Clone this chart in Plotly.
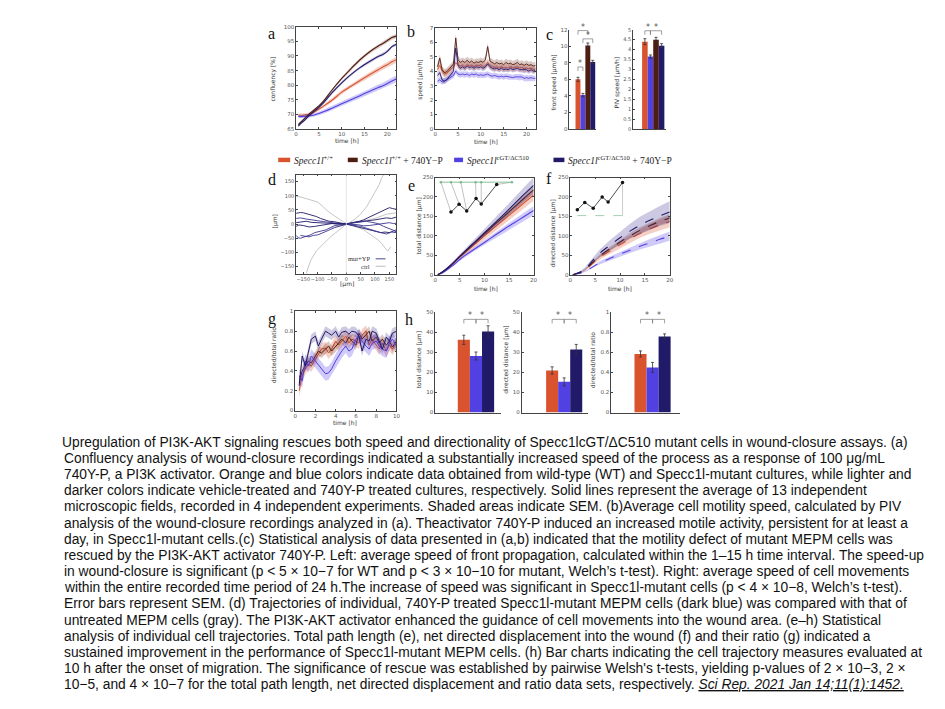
import plotly.graph_objects as go

# ---------------- DATA ----------------
RED, BROWN, BLUE, NAVY = '#d9532f', '#4e1d12', '#5140e2', '#211a68'
RED_F, BROWN_F, BLUE_F, NAVY_F = ('rgba(217,83,47,0.28)', 'rgba(110,40,25,0.25)',
                                  'rgba(81,64,226,0.28)', 'rgba(60,40,140,0.25)')

# (a) confluency
t_a = [0.5, 1, 2, 3, 4, 5, 6, 8, 10, 12, 14, 16, 18, 19, 20, 21, 22]
conf_brown = [66.5, 67.3, 68.8, 70.3, 71.6, 72.9, 74.5, 78.6, 82.3, 85.6, 88.7, 91.3, 93.4, 94.3, 95.3, 96.3, 96.8]
conf_navy = [66.0, 66.8, 68.2, 69.8, 71.1, 72.4, 73.9, 77.6, 80.8, 83.6, 86.0, 88.0, 89.8, 90.5, 91.6, 93.2, 94.0]
conf_red = [69.8, 69.7, 69.8, 70.0, 70.8, 71.8, 72.8, 75.0, 77.6, 79.6, 81.6, 83.5, 85.3, 86.2, 87.0, 88.0, 88.7]
conf_blue = [69.3, 69.2, 69.4, 69.5, 69.8, 70.3, 70.9, 72.2, 73.6, 75.0, 76.4, 77.8, 79.2, 79.8, 80.6, 81.4, 82.2]
sem_conf_brown = [0.4, 0.4, 0.4, 0.4, 0.4, 0.4, 0.5, 0.5, 0.5, 0.6, 0.6, 0.6, 0.6, 0.6, 0.7, 0.7, 0.7]
sem_conf_navy = [0.4, 0.4, 0.4, 0.4, 0.4, 0.4, 0.4, 0.5, 0.5, 0.5, 0.5, 0.5, 0.5, 0.5, 0.5, 0.5, 0.5]
sem_conf_red = [0.6, 0.6, 0.6, 0.6, 0.6, 0.6, 0.6, 0.7, 0.7, 0.7, 0.8, 0.8, 0.9, 0.9, 0.9, 1.0, 1.0]
sem_conf_blue = [0.6, 0.6, 0.6, 0.6, 0.6, 0.6, 0.7, 0.7, 0.8, 0.8, 0.9, 0.9, 1.0, 1.0, 1.1, 1.1, 1.2]

# (b) PIV speed
t_b = [0.5, 1.0, 1.5, 2.0, 2.5, 3.0, 3.5, 4.0, 4.5, 5.0, 5.5, 6.0, 6.5, 7.0, 7.5, 8.0, 8.5, 9.0, 9.5, 10.0, 10.5,
       11.0, 11.5, 12.0, 12.5, 13.0, 13.5, 14.0, 14.5, 15.0, 15.5, 16.0, 16.5, 17.0, 17.5, 18.0, 18.5, 19.0,
       19.5, 20.0, 20.5, 21.0, 21.5, 22.0]
spd_brown = [4.3, 4.9, 4.1, 3.9, 3.95, 4.1, 4.3, 4.5, 6.3, 4.8, 4.6, 4.7, 4.6, 4.75, 4.6, 4.7, 4.55, 4.65, 4.6, 4.7,
             4.6, 4.8, 5.7, 4.7, 4.6, 4.5, 4.6, 4.5, 4.55, 4.45, 4.6, 4.5, 4.55, 4.45, 4.5, 4.6, 4.45, 4.5, 4.4,
             4.5, 4.4, 4.45, 4.35, 4.4]
spd_red = [4.1, 4.4, 4.0, 3.8, 3.85, 4.0, 4.1, 4.3, 4.6, 4.4, 4.35, 4.4, 4.3, 4.45, 4.35, 4.4, 4.3, 4.4, 4.35, 4.45,
           4.3, 4.4, 4.6, 4.4, 4.3, 4.25, 4.3, 4.2, 4.3, 4.2, 4.25, 4.2, 4.3, 4.2, 4.25, 4.3, 4.2, 4.25, 4.15, 4.2,
           4.15, 4.2, 4.1, 4.15]
spd_navy = [3.7, 3.9, 3.4, 3.3, 3.4, 3.6, 3.8, 4.0, 5.6, 4.4, 4.2, 4.3, 4.2, 4.35, 4.25, 4.3, 4.2, 4.3, 4.25, 4.3,
            4.2, 4.3, 4.5, 4.3, 4.2, 4.15, 4.2, 4.1, 4.2, 4.1, 4.15, 4.1, 4.2, 4.1, 4.15, 4.2, 4.1, 4.1, 4.05, 4.1,
            4.0, 4.1, 4.0, 4.05]
spd_blue = [3.3, 3.4, 3.25, 3.3, 3.4, 3.5, 3.6, 3.7, 4.0, 3.8, 3.75, 3.8, 3.75, 3.8, 3.7, 3.8, 3.75, 3.8, 3.7, 3.75,
            3.7, 3.75, 3.8, 3.7, 3.65, 3.7, 3.65, 3.6, 3.65, 3.6, 3.65, 3.6, 3.6, 3.55, 3.6, 3.6, 3.55, 3.6, 3.5,
            3.55, 3.5, 3.55, 3.5, 3.5]
sem_spd = {'brown': 0.25, 'red': 0.25, 'navy': 0.2, 'blue': 0.2}

# (c) bar charts: order red, blue, brown, navy
c_colors = [RED, BLUE, BROWN, NAVY]
front_speed = [6.0, 4.1, 10.1, 8.1]
front_speed_err = [0.25, 0.2, 0.3, 0.2]
piv_speed = [4.4, 3.65, 4.5, 4.2]
piv_speed_err = [0.15, 0.08, 0.12, 0.1]
front_brackets = [(1, 3, 11.9), (2, 4, 10.9), (1, 2, 7.5)]
piv_brackets = [(1, 2, 4.95), (2, 4, 4.95)]

# (d) trajectories
traj_mut = [
    ([-175, -160, -150, -135, -120, -105, -90, -75, -60, -45, -30, -15, 0, 15, 30, 45, 60, 75, 90, 105, 120, 135, 150, 162, 175],
     [38, 41, 40, 36, 30, 27, 20, 16, 10, 9, 5, 3, 0, 3, 5, 10, 15, 22, 30, 36, 45, 50, 58, 55, 52]),
    ([-175, -160, -140, -120, -100, -80, -60, -45, -30, -15, 0, 20, 40, 60, 80, 100, 120, 135, 150, 165, 175],
     [20, 22, 18, 16, 12, 9, 6, 5, 3, 2, 0, -1, -2, -6, -5, -2, 0, 4, 5, 2, 3]),
    ([-175, -165, -150, -130, -110, -90, -70, -50, -30, -15, 0, 20, 40, 60, 80, 100, 120, 135, 150, 165, 175],
     [-8, -3, -5, -10, -8, -4, -2, 2, 0, 1, 0, -5, -10, -14, -20, -24, -30, -28, -30, -24, -20]),
    ([-175, -168, -160, -150, -140, -125, -110, -90, -70, -55, -40, -20, 0, 25, 50, 75, 100, 120, 140, 158, 175],
     [-40, -48, -50, -47, -45, -38, -30, -26, -20, -12, -5, -3, 0, -4, -8, -16, -25, -30, -35, -28, -30]),
    ([-175, -158, -140, -120, -100, -75, -50, -25, 0, 25, 50, 75, 100, 120, 140, 158, 175],
     [5, 8, 10, 6, 5, 4, 2, 1, 0, 6, 10, 12, 15, 18, 22, 20, 25]),
    ([-160, -145, -130, -115, -100, -85, -70, -55, -40, -25, -15, 0, 15, 30, 50, 70, 90, 110, 130, 150, 165, 175],
     [-40, -42, -45, -40, -38, -32, -25, -18, -12, -8, -4, 0, 3, 5, 8, 10, 6, 2, -8, -15, -22, -28]),
]
traj_ctrl = [
    ([-175, -160, -140, -120, -100, -85, -70, -50, -30, -10, 0], [98, 96, 90, 85, 78, 66, 50, 35, 20, 8, 2]),
    ([0, 20, 45, 70, 90, 105, 115, 122, 130], [0, 10, 30, 60, 95, 120, 140, 160, 175]),
    ([0, 25, 60, 90, 110, 125, 135, 145, 155], [0, -5, -20, -40, -55, -70, -85, -95, -80]),
    ([-140, -125, -105, -80, -55, -30, -10, 0], [-175, -130, -95, -70, -45, -25, -8, 0]),
    ([-60, -30, 0, 30, 60, 100, 140, 175], [-15, -8, 0, 6, 12, 20, 35, 40]),
]

# (e) total distance, (f) directed distance
t_ef = [0.5, 1, 2, 3, 4, 5, 6, 8, 10, 12, 14, 16, 18, 20]
tot_navy = [0, 3, 12, 23, 35, 48, 60, 84, 108, 132, 156, 181, 206, 230]
tot_brown = [0, 3, 12, 22, 34, 47, 58, 82, 105, 128, 150, 173, 196, 218]
tot_red = [0, 3, 11, 21, 33, 45, 56, 78, 100, 121, 142, 163, 184, 205]
tot_blue = [0, 2, 9, 18, 28, 39, 49, 66, 83, 100, 117, 133, 149, 165]
sem_tot_navy = [0, 1, 2, 3, 4, 5, 6, 8, 10, 12, 14, 16, 18, 20]
sem_tot_brown = [0, 1, 1, 2, 2, 3, 3, 4, 5, 6, 7, 8, 9, 10]
sem_tot_red = [0, 1, 1, 2, 3, 4, 5, 6, 8, 9, 11, 12, 14, 15]
sem_tot_blue = [0, 1, 1, 2, 3, 3, 4, 5, 6, 7, 8, 9, 11, 12]
dir_navy = [0, 2, 7, 16, 29, 44, 56, 76, 95, 112, 127, 140, 151, 161]
dir_brown = [0, 1.5, 6, 14, 25, 38, 49, 67, 84, 100, 114, 126, 137, 146]
dir_red = [0, 1.5, 5, 12, 23, 35, 45, 61, 77, 92, 106, 118, 128, 137]
dir_blue = [0, 1, 4, 9, 16, 24, 31, 42, 53, 63, 73, 82, 91, 99]
sem_dir_navy = [0, 1, 2, 4, 6, 8, 10, 13, 16, 19, 22, 24, 26, 28]
sem_dir_brown = [0, 1, 1, 2, 2, 3, 4, 5, 6, 7, 8, 9, 9, 10]
sem_dir_red = [0, 1, 1, 2, 3, 4, 5, 7, 8, 10, 11, 13, 14, 15]
sem_dir_blue = [0, 1, 1, 2, 2, 3, 4, 5, 6, 7, 8, 10, 11, 12]

# insets of (e) and (f)
e_zig_x = [3.2, 4.85, 6.4, 8.3, 9.35, 12.5]
e_zig_y = [161, 181, 164, 196, 182, 232]
e_unroll_x = [1.15, 3.2, 5.2, 8.2, 9.35, 15.6]
e_unroll_y = 238
f_zig_x = [1.4, 2.9, 4.6, 6.4, 7.6, 10.5]
f_zig_y = [167, 186, 171, 200, 187, 237]
f_base_y = 152

# (g) directed / total ratio
t_g = [0.4, 0.7, 1.0, 1.3, 1.6, 2.0, 2.3, 2.6, 3.0, 3.3, 3.6, 4.0, 4.3, 4.6, 5.0, 5.3, 5.6, 6.0, 6.3, 6.6,
       7.0, 7.3, 7.6, 8.0, 8.3, 8.6, 9.0, 9.3, 9.6, 10.0]
rat_navy = [0.25, 0.55, 0.45, 0.58, 0.72, 0.75, 0.65, 0.72, 0.80, 0.78, 0.76, 0.80, 0.74, 0.79, 0.80, 0.77, 0.80,
            0.79, 0.75, 0.60, 0.72, 0.70, 0.80, 0.78, 0.70, 0.62, 0.74, 0.70, 0.78, 0.80]
rat_blue = [0.35, 0.30, 0.50, 0.45, 0.55, 0.50, 0.46, 0.42, 0.37, 0.38, 0.42, 0.50, 0.55, 0.60, 0.65, 0.60, 0.62,
            0.72, 0.75, 0.70, 0.65, 0.62, 0.68, 0.70, 0.65, 0.62, 0.60, 0.68, 0.72, 0.65]
rat_red = [0.20, 0.35, 0.42, 0.47, 0.45, 0.52, 0.58, 0.62, 0.63, 0.58, 0.62, 0.70, 0.66, 0.70, 0.75, 0.68, 0.72,
           0.70, 0.68, 0.76, 0.80, 0.66, 0.72, 0.66, 0.62, 0.68, 0.60, 0.66, 0.62, 0.68]
rat_brown = [0.28, 0.40, 0.45, 0.50, 0.48, 0.55, 0.60, 0.58, 0.62, 0.65, 0.60, 0.64, 0.68, 0.72, 0.68, 0.74, 0.70,
             0.66, 0.78, 0.72, 0.76, 0.80, 0.70, 0.74, 0.68, 0.72, 0.66, 0.70, 0.64, 0.70]
sem_rat = {'navy': 0.05, 'blue': 0.07, 'red': 0.06, 'brown': 0.05}

# (h) bars at 10 h: red, blue, navy
h_colors = [RED, BLUE, NAVY]
h_total = [36.3, 28.2, 40.5]
h_total_err = [2.3, 2.0, 2.8]
h_directed = [21.0, 15.3, 31.5]
h_directed_err = [1.8, 2.0, 2.5]
h_ratio = [0.585, 0.45, 0.76]
h_ratio_err = [0.03, 0.05, 0.025]

caption_lines = [
    "Upregulation of PI3K-AKT signaling rescues both speed and directionality of Specc1lcGT/ΔC510 mutant cells in wound-closure assays. (a)",
    "Confluency analysis of wound-closure recordings indicated a substantially increased speed of the process as a response of 100 μg/mL",
    "740Y-P, a PI3K activator. Orange and blue colors indicate data obtained from wild-type (WT) and Specc1l-mutant cultures, while lighter and",
    "darker colors indicate vehicle-treated and 740Y-P treated cultures, respectively. Solid lines represent the average of 13 independent",
    "microscopic fields, recorded in 4 independent experiments. Shaded areas indicate SEM. (b)Average cell motility speed, calculated by PIV",
    "analysis of the wound-closure recordings analyzed in (a). Theactivator 740Y-P induced an increased motile activity, persistent for at least a",
    "day, in Specc1l-mutant cells.(c) Statistical analysis of data presented in (a,b) indicated that the motility defect of mutant MEPM cells was",
    "rescued by the PI3K-AKT activator 740Y-P. Left: average speed of front propagation, calculated within the 1–15 h time interval. The speed-up",
    "in wound-closure is significant (p &lt; 5 × 10−7 for WT and p &lt; 3 × 10−10 for mutant, Welch’s t-test). Right: average speed of cell movements",
    "within the entire recorded time period of 24 h.The increase of speed was significant in Specc1l-mutant cells (p &lt; 4 × 10−8, Welch’s t-test).",
    "Error bars represent SEM. (d) Trajectories of individual, 740Y-P treated Specc1l-mutant MEPM cells (dark blue) was compared with that of",
    "untreated MEPM cells (gray). The PI3K-AKT activator enhanced the guidance of cell movements into the wound area. (e–h) Statistical",
    "analysis of individual cell trajectories. Total path length (e), net directed displacement into the wound (f) and their ratio (g) indicated a",
    "sustained improvement in the performance of Specc1l-mutant MEPM cells. (h) Bar charts indicating the cell trajectory measures evaluated at",
    "10 h after the onset of migration. The significance of rescue was established by pairwise Welsh's t-tests, yielding p-values of 2 × 10−3, 2 ×",
    "10−5, and 4 × 10−7 for the total path length, net directed displacement and ratio data sets, respectively. <i><u>Sci Rep. 2021 Jan 14;11(1):1452.</u></i>",
]

# ---------------- LAYOUT HELPERS ----------------
W, H = 945, 709
def fx(p): return p / W
def fy(p): return 1 - p / H

fig = go.Figure()
layout = dict(width=W, height=H, margin=dict(l=0, r=0, t=0, b=0), paper_bgcolor='white',
              plot_bgcolor='white', showlegend=False)
TICKF = dict(family='DejaVu Sans', size=5.5, color='#555')
LINEC = '#444'

def axnames(n):
    return ('x' if n == 1 else f'x{n}', 'y' if n == 1 else f'y{n}')

def make_axes(n, box, xr, yr, xd, yd, frame=True, xticks=True, tickfont=TICKF):
    x0, x1, y0, y1 = box
    xn = 'xaxis' if n == 1 else f'xaxis{n}'
    yn = 'yaxis' if n == 1 else f'yaxis{n}'
    xa, ya = axnames(n)
    common = dict(showgrid=False, zeroline=False, showline=True, linecolor=LINEC, linewidth=0.7,
                  tickfont=tickfont, ticklen=2, tickwidth=0.6, tickcolor=LINEC, fixedrange=True,
                  tickangle=0)
    xax = dict(common, domain=[fx(x0), fx(x1)], range=xr, anchor=ya, dtick=xd, tick0=0,
               ticks='inside' if xticks else '', showticklabels=xticks,
               mirror='ticks' if frame else False)
    yax = dict(common, domain=[fy(y1), fy(y0)], range=yr, anchor=xa, dtick=yd, tick0=0, ticks='inside',
               mirror='ticks' if frame else False)
    layout[xn] = xax
    layout[yn] = yax

def band(n, x, y, s, fill):
    xa, ya = axnames(n)
    if isinstance(s, (int, float)):
        s = [s] * len(y)
    up = [a + b for a, b in zip(y, s)]
    lo = [a - b for a, b in zip(y, s)]
    fig.add_trace(go.Scatter(x=list(x) + list(x)[::-1], y=up + lo[::-1], fill='toself', fillcolor=fill,
                             line=dict(width=0), mode='lines', hoverinfo='skip', xaxis=xa, yaxis=ya))

def line(n, x, y, color, width=1.1, dash='solid', shape='linear'):
    xa, ya = axnames(n)
    fig.add_trace(go.Scatter(x=x, y=y, mode='lines', line=dict(color=color, width=width, dash=dash, shape=shape),
                             xaxis=xa, yaxis=ya))

annotations = []
shapes = []

def text(px, py, s, size=6, angle=0, family='DejaVu Sans', color='#333', xanchor='center', yanchor='middle'):
    annotations.append(dict(x=fx(px), y=fy(py), xref='paper', yref='paper', text=s, showarrow=False,
                            textangle=angle, font=dict(family=family, size=size, color=color),
                            xanchor=xanchor, yanchor=yanchor))

def bars(n, vals, errs, colors):
    xa, ya = axnames(n)
    fig.add_trace(go.Bar(x=list(range(1, len(vals) + 1)), y=vals, width=1.0, marker=dict(color=colors, line=dict(width=0)),
                         error_y=dict(type='data', array=errs, color='#333', thickness=0.8, width=1.5),
                         xaxis=xa, yaxis=ya))

def brackets(n, br, leg, starsize=8):
    xa, ya = axnames(n)
    for i, j, h in br:
        shapes.append(dict(type='path', xref=xa, yref=ya,
                           path=f'M {i},{h - leg} L {i},{h} L {j},{h} L {j},{h - leg}',
                           line=dict(color='#777', width=0.7)))
        annotations.append(dict(x=(i + j) / 2, y=h, xref=xa, yref=ya, text='*', showarrow=False,
                                yanchor='bottom', font=dict(family='DejaVu Sans', size=starsize, color='#555'),
                                yshift=-3))

SERIF = 'Liberation Serif, DejaVu Serif, serif'

# ---------------- (a) ----------------
make_axes(1, (296, 397, 24, 127), [0, 22], [65, 100], 5, 5)
for y, s, c, f in [(conf_red, sem_conf_red, RED, RED_F), (conf_blue, sem_conf_blue, BLUE, BLUE_F),
                   (conf_brown, sem_conf_brown, BROWN, BROWN_F), (conf_navy, sem_conf_navy, NAVY, NAVY_F)]:
    band(1, t_a, y, s, f)
    line(1, t_a, y, c, shape='spline')
text(273, 77, 'confluency [%]', angle=-90)
text(347, 139, 'time [h]')
text(271, 31, 'a', size=16, family=SERIF, color='#111')

# ---------------- (b) ----------------
make_axes(2, (436, 537, 25, 127), [0, 22], [0, 7], 5, 1)
for key, y, c, f in [('red', spd_red, RED, RED_F), ('blue', spd_blue, BLUE, BLUE_F),
                     ('brown', spd_brown, BROWN, BROWN_F), ('navy', spd_navy, NAVY, NAVY_F)]:
    band(2, t_b, y, sem_spd[key], f)
    line(2, t_b, y, c, width=0.9)
text(421, 77, 'speed [μm/h]', angle=-90)
text(487, 140, 'time [h]')
text(412, 29, 'b', size=16, family=SERIF, color='#111')

# ---------------- (c) ----------------
make_axes(3, (571, 598, 27, 127), [-0.75, 4.7], [0, 12], 1, 2, frame=False, xticks=False)
bars(3, front_speed, front_speed_err, c_colors)
brackets(3, front_brackets, 0.5)
make_axes(4, (635, 668, 27, 127), [-1.14, 4.75], [0, 5], 1, 0.5, frame=False, xticks=False,
          tickfont=dict(TICKF, size=5))
bars(4, piv_speed, piv_speed_err, c_colors)
brackets(4, piv_brackets, 0.2)
text(556, 80, 'front speed [μm/h]', angle=-90)
text(619, 80, 'PIV speed [μm/h]', angle=-90)
text(551, 32, 'c', size=16, family=SERIF, color='#111')

# ---------------- legend ----------------
leg_items = [(278, 290, RED, '<i>Specc1l</i><sup>+/+</sup>'),
             (348, 358, BROWN, '<i>Specc1l</i><sup>+/+</sup> + 740Y−P'),
             (455, 464, BLUE, '<i>Specc1l</i><sup>cGT/ΔC510</sup>'),
             (555, 566, NAVY, '<i>Specc1l</i><sup>cGT/ΔC510</sup> + 740Y−P')]
for x0, x1, c, s in leg_items:
    shapes.append(dict(type='rect', xref='paper', yref='paper', x0=fx(x0), x1=fx(x1), y0=fy(160.5), y1=fy(156),
                       fillcolor=c, line=dict(width=0)))
    text(x1 + 2, 158, s, size=9.5, family=SERIF, color='#222', xanchor='left')

# ---------------- (d) ----------------
make_axes(5, (296, 397, 173, 273), [-175, 175], [-175, 175], 50, 50, tickfont=dict(TICKF, size=5))
shapes.append(dict(type='line', xref='x5', yref='y5', x0=0, x1=0, y0=-175, y1=175,
                   line=dict(color='#e0e0e0', width=0.8)))
for xs, ys in traj_ctrl:
    line(5, xs, ys, '#b8b8b8', width=0.8)
for k, (xs, ys) in enumerate(traj_mut):
    line(5, xs, ys, NAVY if k % 2 == 0 else '#3a3590', width=0.9)
text(372, 258, 'mut+YP', size=6.5, family=SERIF, color='#333', xanchor='right')
text(372, 265.5, 'ctrl', size=6.5, family=SERIF, color='#333', xanchor='right')
shapes.append(dict(type='line', xref='paper', yref='paper', x0=fx(376), x1=fx(386), y0=fy(258), y1=fy(258),
                   line=dict(color=NAVY, width=0.8)))
shapes.append(dict(type='line', xref='paper', yref='paper', x0=fx(376), x1=fx(386), y0=fy(265.5), y1=fy(265.5),
                   line=dict(color='#aaa', width=0.8)))
text(275, 220, '[μm]', angle=-90)
text(347, 283, '[μm]')
text(272, 178, 'd', size=16, family=SERIF, color='#111')

# ---------------- (e) ----------------
make_axes(6, (436, 535, 176, 274), [0, 20], [0, 250], 5, 50)
for y, s, c, f in [(tot_red, sem_tot_red, RED, RED_F), (tot_blue, sem_tot_blue, BLUE, BLUE_F),
                   (tot_brown, sem_tot_brown, BROWN, BROWN_F), (tot_navy, sem_tot_navy, NAVY, NAVY_F)]:
    band(6, t_ef, y, s, f)
    line(6, t_ef, y, c, shape='spline')
# inset
cx, cy = [], []
for i in range(len(e_zig_x)):
    cx += [e_unroll_x[i], e_zig_x[i], None]
    cy += [e_unroll_y, e_zig_y[i], None]
fig.add_trace(go.Scatter(x=cx, y=cy, mode='lines', line=dict(color='#999', width=0.6), xaxis='x6', yaxis='y6'))
fig.add_trace(go.Scatter(x=e_unroll_x, y=[e_unroll_y] * len(e_unroll_x), mode='lines+markers',
                         line=dict(color='#7dbb8c', width=0.9), marker=dict(size=2.5, color='#7dbb8c'),
                         xaxis='x6', yaxis='y6'))
fig.add_trace(go.Scatter(x=e_zig_x, y=e_zig_y, mode='lines+markers', line=dict(color='#222', width=0.8),
                         marker=dict(size=3.5, color='#111'), xaxis='x6', yaxis='y6'))
text(420, 225, 'total distance [μm]', angle=-90)
text(487, 288, 'time [h]')
text(412, 184, 'e', size=16, family=SERIF, color='#111')

# ---------------- (f) ----------------
make_axes(7, (572, 672, 176, 274), [0, 20], [0, 250], 5, 50)
for y, s, c, f in [(dir_red, sem_dir_red, RED, RED_F), (dir_blue, sem_dir_blue, BLUE, BLUE_F),
                   (dir_brown, sem_dir_brown, BROWN, BROWN_F), (dir_navy, sem_dir_navy, NAVY, NAVY_F)]:
    band(7, t_ef, y, s, f)
    line(7, t_ef, y, c, dash='dash', shape='spline')
fig.add_trace(go.Scatter(x=[f_zig_x[0], f_zig_x[-1]], y=[f_base_y, f_base_y], mode='lines',
                         line=dict(color='#8cc49a', width=0.8, dash='dash'), xaxis='x7', yaxis='y7'))
fig.add_trace(go.Scatter(x=[f_zig_x[-1], f_zig_x[-1]], y=[f_base_y, f_zig_y[-1]], mode='lines',
                         line=dict(color='#aaa', width=0.6), xaxis='x7', yaxis='y7'))
fig.add_trace(go.Scatter(x=f_zig_x, y=f_zig_y, mode='lines+markers', line=dict(color='#222', width=0.8),
                         marker=dict(size=3.5, color='#111'), xaxis='x7', yaxis='y7'))
text(555, 232, 'directed distance [μm]', angle=-90)
text(622, 288, 'time [h]')
text(550, 177, 'f', size=16, family=SERIF, color='#111')

# ---------------- (g) ----------------
make_axes(8, (295, 397, 311, 411), [0, 10], [0, 1], 2, 0.2)
for key, y, c, f in [('red', rat_red, RED, RED_F), ('brown', rat_brown, BROWN, BROWN_F),
                     ('blue', rat_blue, BLUE, BLUE_F), ('navy', rat_navy, NAVY, NAVY_F)]:
    band(8, t_g, y, sem_rat[key], f)
    line(8, t_g, y, c, width=1.0)
text(274, 355, 'directed/total ratio', angle=-90)
text(345, 423, 'time [h]')
text(272, 319, 'g', size=16, family=SERIF, color='#111')

# ---------------- (h) ----------------
make_axes(9, (436, 502, 312, 413), [-1.36, 4.05], [0, 50], 1, 10, frame=False, xticks=False)
bars(9, h_total, h_total_err, h_colors)
brackets(9, [(1, 2, 46.5), (2, 3, 46.5)], 2)
make_axes(10, (523, 590, 312, 413), [-1.53, 4.0], [0, 50], 1, 10, frame=False, xticks=False)
bars(10, h_directed, h_directed_err, h_colors)
brackets(10, [(1, 2, 46.5), (2, 3, 46.5)], 2)
make_axes(11, (613, 682, 312, 413), [-1.44, 4.25], [0, 1], 1, 0.2, frame=False, xticks=False)
bars(11, h_ratio, h_ratio_err, h_colors)
brackets(11, [(1, 2, 0.93), (2, 3, 0.93)], 0.04)
text(420, 360, 'total distance [μm]', angle=-90)
text(507, 360, 'directed distance [μm]', angle=-90)
text(595, 360, 'directed/total ratio', angle=-90)
text(410, 319, 'h', size=16, family=SERIF, color='#111')

# ---------------- caption ----------------
CAPF = 'Liberation Sans Narrow, Arial Narrow, Liberation Sans, Arial, sans-serif'
for k, s in enumerate(caption_lines):
    text(60 if k else 58, 443 + k * 16.3, s, size=13.8, family=CAPF, color='#111', xanchor='left')

layout['annotations'] = annotations
layout['shapes'] = shapes
fig.update_layout(**layout)
fig.write_html('out.html')
